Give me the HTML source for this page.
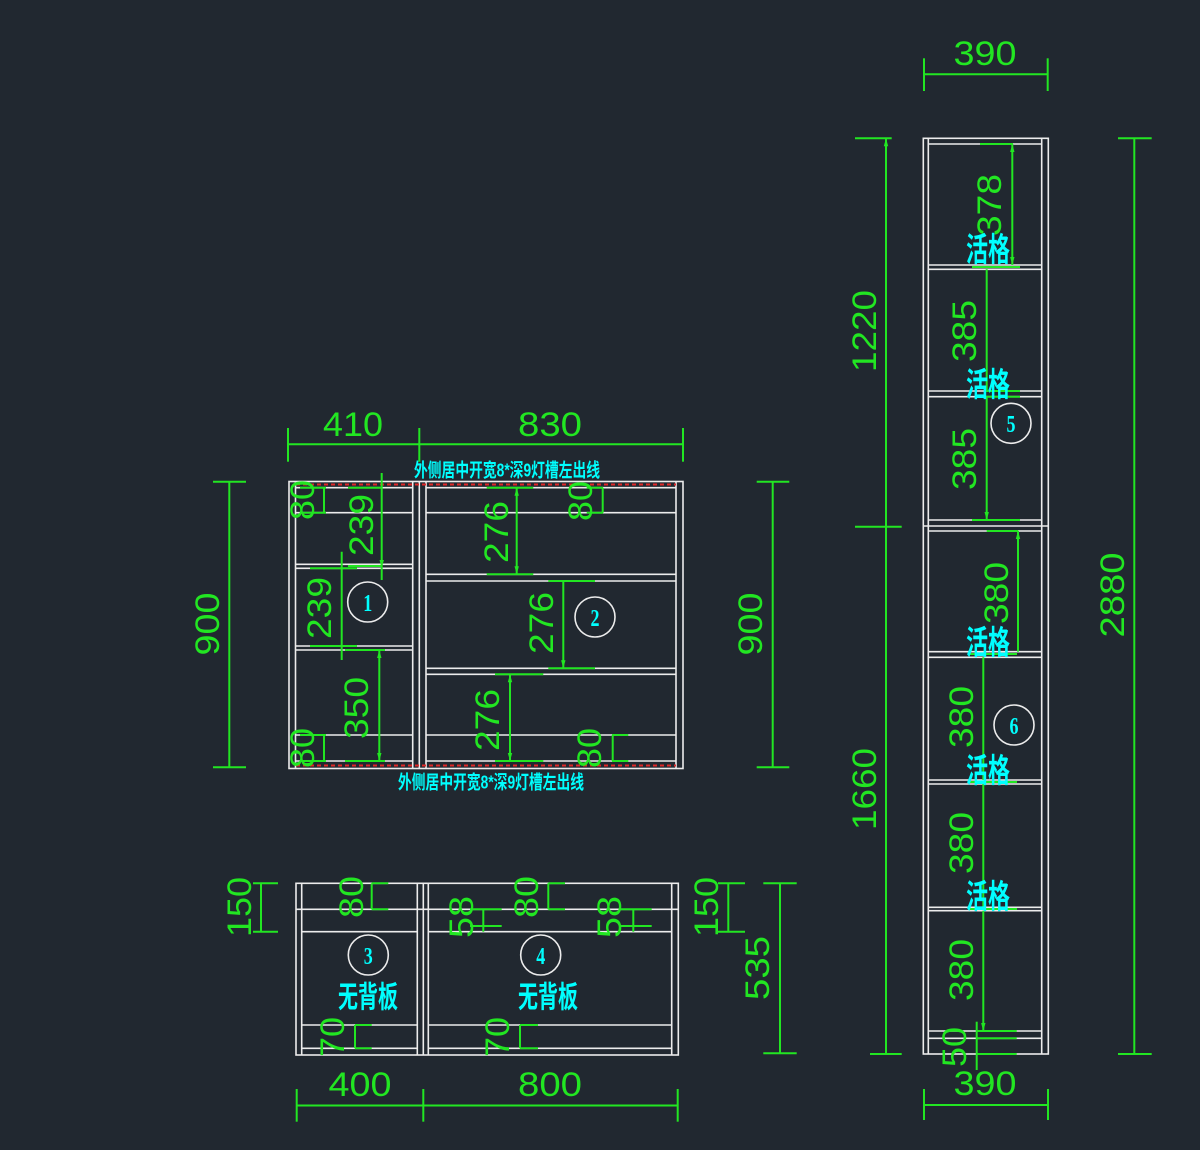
<!DOCTYPE html>
<html><head><meta charset="utf-8"><style>
html,body{margin:0;padding:0;background:#212830;}
svg{display:block;}
.w{stroke:#ececec;stroke-width:1.6;fill:none;}
.g{stroke:#22e622;stroke-width:2;fill:none;}
.r{stroke:#e02828;stroke-width:2;stroke-dasharray:4 3;fill:none;}
.t{fill:#22e622;font-family:"Liberation Sans",sans-serif;font-size:34px;text-anchor:middle;dominant-baseline:central;}
.c{fill:#00ffff;font-family:"Liberation Sans","Noto Sans CJK SC",sans-serif;font-weight:bold;text-anchor:middle;dominant-baseline:central;}
.n{fill:#00ffff;font-family:"Liberation Serif",serif;font-weight:bold;font-size:24px;text-anchor:middle;dominant-baseline:central;}
.o{stroke:#ececec;stroke-width:1.6;fill:none;}
</style></head><body>
<svg width="1200" height="1150" viewBox="0 0 1200 1150" xmlns="http://www.w3.org/2000/svg">
<rect width="1200" height="1150" fill="#212830"/>

<!-- ===== Cabinet A (top-left) ===== -->
<g class="w">
<rect x="289" y="481.5" width="394" height="287"/>
<line x1="295.5" y1="481.5" x2="295.5" y2="768.5"/>
<line x1="412.7" y1="481.5" x2="412.7" y2="768.5"/>
<line x1="419.3" y1="481.5" x2="419.3" y2="768.5"/>
<line x1="426" y1="481.5" x2="426" y2="768.5"/>
<line x1="676" y1="481.5" x2="676" y2="768.5"/>
<line x1="295.5" y1="487.7" x2="412.7" y2="487.7"/>
<line x1="295.5" y1="512.7" x2="412.7" y2="512.7"/>
<line x1="295.5" y1="564.3" x2="412.7" y2="564.3"/>
<line x1="295.5" y1="568.3" x2="412.7" y2="568.3"/>
<line x1="295.5" y1="646" x2="412.7" y2="646"/>
<line x1="295.5" y1="650" x2="412.7" y2="650"/>
<line x1="295.5" y1="735" x2="412.7" y2="735"/>
<line x1="295.5" y1="761" x2="412.7" y2="761"/>
<line x1="426" y1="487.7" x2="676" y2="487.7"/>
<line x1="426" y1="512.7" x2="676" y2="512.7"/>
<line x1="426" y1="574.3" x2="676" y2="574.3"/>
<line x1="426" y1="581" x2="676" y2="581"/>
<line x1="426" y1="668.3" x2="676" y2="668.3"/>
<line x1="426" y1="674.3" x2="676" y2="674.3"/>
<line x1="426" y1="735" x2="676" y2="735"/>
<line x1="426" y1="761" x2="676" y2="761"/>
</g>
<line class="r" x1="296" y1="484.5" x2="676" y2="484.5"/>
<line class="r" x1="296" y1="765.5" x2="676" y2="765.5"/>

<g class="g">
<!-- top dims -->
<line x1="288" y1="444.3" x2="683" y2="444.3"/>
<line x1="288" y1="428" x2="288" y2="461.7"/>
<line x1="419.3" y1="428" x2="419.3" y2="461.7"/>
<line x1="683" y1="428" x2="683" y2="461.7"/>
<!-- left 900 -->
<line x1="229.3" y1="481.7" x2="229.3" y2="767.3"/>
<line x1="213" y1="481.7" x2="246" y2="481.7"/>
<line x1="213" y1="767.3" x2="246" y2="767.3"/>
<!-- right 900 -->
<line x1="772.7" y1="481.7" x2="772.7" y2="767.3"/>
<line x1="756.7" y1="481.7" x2="789.3" y2="481.7"/>
<line x1="756.7" y1="767.3" x2="789.3" y2="767.3"/>
<!-- 80 TL -->
<line x1="324" y1="487.7" x2="324" y2="512.7"/>
<line x1="300" y1="487.7" x2="326" y2="487.7"/>
<line x1="300" y1="512.7" x2="326" y2="512.7"/>
<!-- 239 top -->
<line x1="381.7" y1="473" x2="381.7" y2="580"/>
<line x1="348" y1="487.7" x2="382" y2="487.7"/>
<line x1="348" y1="566" x2="382" y2="566"/>
<!-- 239 mid -->
<line x1="341.7" y1="551.7" x2="341.7" y2="660"/>
<line x1="310" y1="568.3" x2="357" y2="568.3"/>
<line x1="310" y1="646" x2="357" y2="646"/>
<!-- 350 -->
<line x1="379.3" y1="650" x2="379.3" y2="761"/>
<line x1="345" y1="650" x2="385" y2="650"/>
<line x1="345" y1="761" x2="385" y2="761"/>
<!-- 80 BL -->
<line x1="324" y1="735" x2="324" y2="761"/>
<line x1="300" y1="735" x2="326" y2="735"/>
<line x1="300" y1="761" x2="326" y2="761"/>
<!-- 276 #1 -->
<line x1="516.7" y1="487.7" x2="516.7" y2="574.3"/>
<line x1="486.7" y1="487.7" x2="533.3" y2="487.7"/>
<line x1="486.7" y1="574.3" x2="533.3" y2="574.3"/>
<!-- 276 #2 -->
<line x1="563.3" y1="581" x2="563.3" y2="668.3"/>
<line x1="548.3" y1="581" x2="595" y2="581"/>
<line x1="548.3" y1="668.3" x2="595" y2="668.3"/>
<!-- 276 #3 -->
<line x1="510" y1="674.3" x2="510" y2="761"/>
<line x1="495" y1="674.3" x2="543.3" y2="674.3"/>
<line x1="495" y1="761" x2="543.3" y2="761"/>
<!-- 80 TR -->
<line x1="602.7" y1="487.7" x2="602.7" y2="512.7"/>
<line x1="586.7" y1="487.7" x2="603" y2="487.7"/>
<line x1="586.7" y1="512.7" x2="603" y2="512.7"/>
<!-- 80 BR -->
<line x1="612.7" y1="735" x2="612.7" y2="761"/>
<line x1="612" y1="735" x2="628.3" y2="735"/>
<line x1="612" y1="761" x2="628.3" y2="761"/>
</g>
<g fill="#22e622">
<polygon points="381.7,568 379.5,560 383.9,560"/>
<polygon points="379.3,650 377.1,658 381.5,658"/>
<polygon points="379.3,761 377.1,753 381.5,753"/>
<polygon points="516.7,487.7 514.5,495.7 518.9,495.7"/>
<polygon points="516.7,574.3 514.5,566.3 518.9,566.3"/>
<polygon points="563.3,668.3 561.1,660.3 565.5,660.3"/>
<polygon points="510,674.3 507.8,682.3 512.2,682.3"/>
<polygon points="510,761 507.8,753 512.2,753"/>
</g>

<text class="t" x="353" y="425" textLength="60" lengthAdjust="spacingAndGlyphs">410</text>
<text class="t" x="550" y="425" textLength="64" lengthAdjust="spacingAndGlyphs">830</text>
<text class="t" transform="translate(208,624) rotate(-90)" textLength="63" lengthAdjust="spacingAndGlyphs">900</text>
<text class="t" transform="translate(751,624) rotate(-90)" textLength="63" lengthAdjust="spacingAndGlyphs">900</text>
<text class="t" transform="translate(303,500) rotate(-90)" textLength="40" lengthAdjust="spacingAndGlyphs">80</text>
<text class="t" transform="translate(362,525) rotate(-90)" textLength="62" lengthAdjust="spacingAndGlyphs">239</text>
<text class="t" transform="translate(320,608) rotate(-90)" textLength="62" lengthAdjust="spacingAndGlyphs">239</text>
<text class="t" transform="translate(357,708) rotate(-90)" textLength="62" lengthAdjust="spacingAndGlyphs">350</text>
<text class="t" transform="translate(303,748) rotate(-90)" textLength="40" lengthAdjust="spacingAndGlyphs">80</text>
<text class="t" transform="translate(497,532) rotate(-90)" textLength="62" lengthAdjust="spacingAndGlyphs">276</text>
<text class="t" transform="translate(542,623) rotate(-90)" textLength="62" lengthAdjust="spacingAndGlyphs">276</text>
<text class="t" transform="translate(488,720) rotate(-90)" textLength="62" lengthAdjust="spacingAndGlyphs">276</text>
<text class="t" transform="translate(581,501) rotate(-90)" textLength="40" lengthAdjust="spacingAndGlyphs">80</text>
<text class="t" transform="translate(590,748) rotate(-90)" textLength="40" lengthAdjust="spacingAndGlyphs">80</text>

<circle class="o" cx="367.7" cy="602" r="20"/>
<text class="n" transform="translate(367.7,603) scale(0.75,1)">1</text>
<circle class="o" cx="595" cy="617" r="20"/>
<text class="n" transform="translate(595,618) scale(0.75,1)">2</text>

<text class="c" font-size="14" transform="translate(507,470) scale(1,1.35)" textLength="186" lengthAdjust="spacingAndGlyphs">外侧居中开宽8*深9灯槽左出线</text>
<text class="c" font-size="14" transform="translate(491,782) scale(1,1.35)" textLength="186" lengthAdjust="spacingAndGlyphs">外侧居中开宽8*深9灯槽左出线</text>

<!-- ===== Cabinet B (bottom-left) ===== -->
<g class="w">
<rect x="296" y="883.3" width="382.3" height="171.7"/>
<line x1="301.7" y1="883.3" x2="301.7" y2="1055"/>
<line x1="417.3" y1="883.3" x2="417.3" y2="1055"/>
<line x1="423.3" y1="883.3" x2="423.3" y2="1055"/>
<line x1="428.3" y1="883.3" x2="428.3" y2="1055"/>
<line x1="671.7" y1="883.3" x2="671.7" y2="1055"/>
<line x1="296" y1="909.3" x2="678.3" y2="909.3"/>
<line x1="301.7" y1="931.7" x2="417.3" y2="931.7"/>
<line x1="428.3" y1="931.7" x2="671.7" y2="931.7"/>
<line x1="301.7" y1="1025" x2="417.3" y2="1025"/>
<line x1="428.3" y1="1025" x2="671.7" y2="1025"/>
<line x1="301.7" y1="1048.3" x2="417.3" y2="1048.3"/>
<line x1="428.3" y1="1048.3" x2="671.7" y2="1048.3"/>
</g>
<g class="g">
<!-- 150 left -->
<line x1="261" y1="883.3" x2="261" y2="931.7"/>
<line x1="253" y1="883.3" x2="278" y2="883.3"/>
<line x1="253" y1="931.7" x2="278" y2="931.7"/>
<!-- 80 left -->
<line x1="371.7" y1="883.3" x2="371.7" y2="909.3"/>
<line x1="371.7" y1="883.3" x2="388.3" y2="883.3"/>
<line x1="371.7" y1="909.3" x2="388.3" y2="909.3"/>
<!-- 70 left -->
<line x1="355" y1="1025" x2="355" y2="1048.3"/>
<line x1="355" y1="1025" x2="371.7" y2="1025"/>
<line x1="355" y1="1048.3" x2="371.7" y2="1048.3"/>
<!-- 58 #1 -->
<line x1="483.3" y1="909.3" x2="483.3" y2="931.7"/>
<line x1="470" y1="909.3" x2="501.7" y2="909.3"/>
<line x1="470" y1="926" x2="501.7" y2="926"/>
<!-- 80 right -->
<line x1="548.3" y1="883.3" x2="548.3" y2="909.3"/>
<line x1="548.3" y1="883.3" x2="565" y2="883.3"/>
<line x1="548.3" y1="909.3" x2="565" y2="909.3"/>
<!-- 58 #2 -->
<line x1="633.3" y1="909.3" x2="633.3" y2="931.7"/>
<line x1="620" y1="909.3" x2="651.7" y2="909.3"/>
<line x1="620" y1="926" x2="651.7" y2="926"/>
<!-- 70 right -->
<line x1="520" y1="1025" x2="520" y2="1048.3"/>
<line x1="520" y1="1025" x2="538" y2="1025"/>
<line x1="520" y1="1048.3" x2="538" y2="1048.3"/>
<!-- 150 right -->
<line x1="728.3" y1="883.3" x2="728.3" y2="931.7"/>
<line x1="718" y1="883.3" x2="745" y2="883.3"/>
<line x1="718" y1="931.7" x2="745" y2="931.7"/>
<!-- 535 -->
<line x1="780" y1="883.3" x2="780" y2="1053.3"/>
<line x1="763.3" y1="883.3" x2="796.7" y2="883.3"/>
<line x1="763.3" y1="1053.3" x2="796.7" y2="1053.3"/>
<!-- 400 / 800 -->
<line x1="296.7" y1="1105.5" x2="677.7" y2="1105.5"/>
<line x1="296.7" y1="1089" x2="296.7" y2="1121.7"/>
<line x1="423.3" y1="1089" x2="423.3" y2="1121.7"/>
<line x1="677.7" y1="1089" x2="677.7" y2="1121.7"/>
</g>
<text class="t" transform="translate(240,907) rotate(-90)" textLength="60" lengthAdjust="spacingAndGlyphs">150</text>
<text class="t" transform="translate(352,897) rotate(-90)" textLength="42" lengthAdjust="spacingAndGlyphs">80</text>
<text class="t" transform="translate(333,1037) rotate(-90)" textLength="40" lengthAdjust="spacingAndGlyphs">70</text>
<text class="t" transform="translate(462,917) rotate(-90)" textLength="42" lengthAdjust="spacingAndGlyphs">58</text>
<text class="t" transform="translate(527,897) rotate(-90)" textLength="42" lengthAdjust="spacingAndGlyphs">80</text>
<text class="t" transform="translate(610,917) rotate(-90)" textLength="42" lengthAdjust="spacingAndGlyphs">58</text>
<text class="t" transform="translate(498,1037) rotate(-90)" textLength="40" lengthAdjust="spacingAndGlyphs">70</text>
<text class="t" transform="translate(707,907) rotate(-90)" textLength="60" lengthAdjust="spacingAndGlyphs">150</text>
<text class="t" transform="translate(758,968) rotate(-90)" textLength="64" lengthAdjust="spacingAndGlyphs">535</text>
<text class="t" x="360" y="1085" textLength="63" lengthAdjust="spacingAndGlyphs">400</text>
<text class="t" x="550" y="1085" textLength="64" lengthAdjust="spacingAndGlyphs">800</text>

<circle class="o" cx="368.3" cy="955" r="20"/>
<text class="n" transform="translate(368.3,956) scale(0.75,1)">3</text>
<circle class="o" cx="540.7" cy="955" r="20"/>
<text class="n" transform="translate(540.7,956) scale(0.75,1)">4</text>
<text class="c" font-size="20" transform="translate(368,998) scale(1,1.5)">无背板</text>
<text class="c" font-size="20" transform="translate(548,998) scale(1,1.5)">无背板</text>

<!-- ===== Cabinet C (tall right) ===== -->
<g class="w">
<rect x="923.3" y="138.3" width="125" height="915.7"/>
<line x1="928.3" y1="138.3" x2="928.3" y2="1054"/>
<line x1="1041.7" y1="138.3" x2="1041.7" y2="1054"/>
<line x1="928.3" y1="144" x2="1041.7" y2="144"/>
<line x1="928.3" y1="265" x2="1041.7" y2="265"/>
<line x1="928.3" y1="269.3" x2="1041.7" y2="269.3"/>
<line x1="928.3" y1="391" x2="1041.7" y2="391"/>
<line x1="928.3" y1="396.7" x2="1041.7" y2="396.7"/>
<line x1="928.3" y1="520" x2="1041.7" y2="520"/>
<line x1="923.3" y1="526" x2="1048.3" y2="526"/>
<line x1="928.3" y1="531" x2="1041.7" y2="531"/>
<line x1="928.3" y1="651.7" x2="1041.7" y2="651.7"/>
<line x1="928.3" y1="657.3" x2="1041.7" y2="657.3"/>
<line x1="928.3" y1="780" x2="1041.7" y2="780"/>
<line x1="928.3" y1="784" x2="1041.7" y2="784"/>
<line x1="928.3" y1="907.3" x2="1041.7" y2="907.3"/>
<line x1="928.3" y1="910.7" x2="1041.7" y2="910.7"/>
<line x1="928.3" y1="1031" x2="1041.7" y2="1031"/>
<line x1="928.3" y1="1038.3" x2="1041.7" y2="1038.3"/>
</g>
<g class="g">
<!-- 390 top -->
<line x1="924" y1="74.3" x2="1047.7" y2="74.3"/>
<line x1="924" y1="58.3" x2="924" y2="91"/>
<line x1="1047.7" y1="58.3" x2="1047.7" y2="91"/>
<!-- left 1220/1660 -->
<line x1="886" y1="138.3" x2="886" y2="1054"/>
<line x1="855" y1="138.3" x2="891.7" y2="138.3"/>
<line x1="855" y1="526.7" x2="901.7" y2="526.7"/>
<line x1="870" y1="1054" x2="901.7" y2="1054"/>
<!-- right 2880 -->
<line x1="1134.3" y1="138.3" x2="1134.3" y2="1054"/>
<line x1="1118" y1="138.3" x2="1151.7" y2="138.3"/>
<line x1="1118" y1="1054" x2="1151.7" y2="1054"/>
<!-- 378 -->
<line x1="1012.3" y1="144" x2="1012.3" y2="265"/>
<line x1="980" y1="144" x2="1013" y2="144"/>
<line x1="972" y1="267" x2="1020" y2="267"/>
<!-- 385 -->
<line x1="986.7" y1="269.3" x2="986.7" y2="391"/>
<line x1="985" y1="391" x2="1020" y2="391"/>
<line x1="985" y1="396.7" x2="1020" y2="396.7"/>
<line x1="986.7" y1="396.7" x2="986.7" y2="520"/>
<line x1="972" y1="520" x2="1020" y2="520"/>
<!-- 380 #1 -->
<line x1="1018" y1="531" x2="1018" y2="651.7"/>
<line x1="986.7" y1="531" x2="1018.3" y2="531"/>
<line x1="968" y1="654" x2="1017" y2="654"/>
<!-- 380 #2..#4 -->
<line x1="983.3" y1="657.3" x2="983.3" y2="780"/>
<line x1="968" y1="782" x2="1017" y2="782"/>
<line x1="983.3" y1="784" x2="983.3" y2="907.3"/>
<line x1="968" y1="909" x2="1017" y2="909"/>
<line x1="983.3" y1="910.7" x2="983.3" y2="1031"/>
<!-- 50 -->
<line x1="976.7" y1="1021.7" x2="976.7" y2="1070"/>
<line x1="976" y1="1031" x2="1016.7" y2="1031"/>
<line x1="976" y1="1038.3" x2="1016.7" y2="1038.3"/>
<line x1="976" y1="1054" x2="1016.7" y2="1054"/>
<!-- 390 bottom -->
<line x1="924" y1="1105" x2="1048" y2="1105"/>
<line x1="924" y1="1089" x2="924" y2="1120"/>
<line x1="1048" y1="1089" x2="1048" y2="1120"/>
</g>
<g fill="#22e622">
<polygon points="1012.3,144 1010.1,152 1014.5,152"/>
<polygon points="1012.3,265 1010.1,257 1014.5,257"/>
<polygon points="986.7,520 984.5,512 988.9,512"/>
<polygon points="1018,531 1015.8,539 1020.2,539"/>
<polygon points="983.3,1031 981.1,1023 985.5,1023"/>
<polygon points="886,138.3 883.8,146.3 888.2,146.3"/>
</g>
<text class="t" x="985" y="54" textLength="63" lengthAdjust="spacingAndGlyphs">390</text>
<text class="t" x="985" y="1084" textLength="63" lengthAdjust="spacingAndGlyphs">390</text>
<text class="t" transform="translate(865,331) rotate(-90)" textLength="82" lengthAdjust="spacingAndGlyphs">1220</text>
<text class="t" transform="translate(865,789) rotate(-90)" textLength="82" lengthAdjust="spacingAndGlyphs">1660</text>
<text class="t" transform="translate(1113,595) rotate(-90)" textLength="85" lengthAdjust="spacingAndGlyphs">2880</text>
<text class="t" transform="translate(990,205) rotate(-90)" textLength="62" lengthAdjust="spacingAndGlyphs">378</text>
<text class="t" transform="translate(965,331) rotate(-90)" textLength="62" lengthAdjust="spacingAndGlyphs">385</text>
<text class="t" transform="translate(965,459) rotate(-90)" textLength="62" lengthAdjust="spacingAndGlyphs">385</text>
<text class="t" transform="translate(997,593) rotate(-90)" textLength="62" lengthAdjust="spacingAndGlyphs">380</text>
<text class="t" transform="translate(962,717) rotate(-90)" textLength="62" lengthAdjust="spacingAndGlyphs">380</text>
<text class="t" transform="translate(962,843) rotate(-90)" textLength="62" lengthAdjust="spacingAndGlyphs">380</text>
<text class="t" transform="translate(962,970) rotate(-90)" textLength="62" lengthAdjust="spacingAndGlyphs">380</text>
<text class="t" transform="translate(955,1047) rotate(-90)" textLength="40" lengthAdjust="spacingAndGlyphs">50</text>

<text class="c" font-size="22" transform="translate(988,250) scale(1,1.5)">活格</text>
<text class="c" font-size="22" transform="translate(988,385) scale(1,1.5)">活格</text>
<text class="c" font-size="22" transform="translate(988,643) scale(1,1.5)">活格</text>
<text class="c" font-size="22" transform="translate(988,771) scale(1,1.5)">活格</text>
<text class="c" font-size="22" transform="translate(988,897) scale(1,1.5)">活格</text>

<circle class="o" cx="1011" cy="423.3" r="20"/>
<text class="n" transform="translate(1011,424.3) scale(0.75,1)">5</text>
<circle class="o" cx="1014" cy="725" r="20"/>
<text class="n" transform="translate(1014,726) scale(0.75,1)">6</text>
</svg>
</body></html>
